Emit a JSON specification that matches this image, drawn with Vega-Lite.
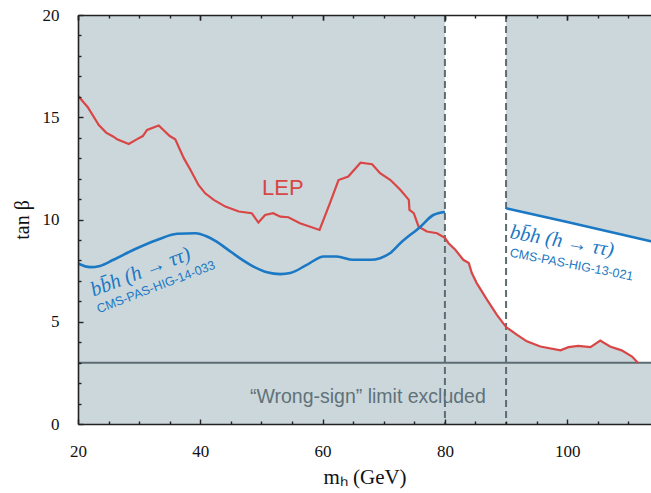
{
  "$schema": "https://vega.github.io/schema/vega-lite/v6.json",
  "width": 573,
  "height": 409,
  "autosize": {"type": "none"},
  "padding": {"left": 78, "top": 15, "right": 0, "bottom": 69},
  "background": "white",
  "config": {"view": {"stroke": null}},
  "datasets": {
    "regions": [
      {"x1": 20, "x2": 80, "y1": 0, "y2": 20},
      {"x1": 20, "x2": 113.7, "y1": 0, "y2": 3}
    ],
    "vlines": [{"x": 80}, {"x": 90}],
    "hline": [{"y": 3}],
    "lep": [
      {"x": 20.0, "y": 16.05}, {"x": 21.6, "y": 15.49}, {"x": 23.4, "y": 14.62}, {"x": 24.6, "y": 14.25},
      {"x": 25.8, "y": 14.05}, {"x": 26.4, "y": 13.92}, {"x": 28.3, "y": 13.69}, {"x": 29.6, "y": 13.92},
      {"x": 30.6, "y": 14.08}, {"x": 31.3, "y": 14.38}, {"x": 33.2, "y": 14.6}, {"x": 35.0, "y": 14.08},
      {"x": 35.9, "y": 13.92}, {"x": 37.3, "y": 13.0}, {"x": 38.4, "y": 12.42}, {"x": 39.7, "y": 11.69},
      {"x": 40.8, "y": 11.28}, {"x": 42.2, "y": 10.96}, {"x": 44.1, "y": 10.63}, {"x": 46.3, "y": 10.39},
      {"x": 48.4, "y": 10.31}, {"x": 49.5, "y": 9.85}, {"x": 50.6, "y": 10.22}, {"x": 51.9, "y": 10.31},
      {"x": 53.1, "y": 10.14}, {"x": 54.4, "y": 10.11}, {"x": 56.3, "y": 9.82}, {"x": 59.5, "y": 9.49},
      {"x": 61.2, "y": 10.8}, {"x": 62.6, "y": 11.93}, {"x": 64.2, "y": 12.1}, {"x": 66.2, "y": 12.78},
      {"x": 68.1, "y": 12.7}, {"x": 69.4, "y": 12.26}, {"x": 71.1, "y": 11.93}, {"x": 72.7, "y": 11.45},
      {"x": 74.1, "y": 10.96}, {"x": 74.2, "y": 10.47}, {"x": 74.9, "y": 10.31}, {"x": 75.7, "y": 9.65},
      {"x": 77.05, "y": 9.41}, {"x": 78.7, "y": 9.33}, {"x": 80.0, "y": 9.1}, {"x": 80.6, "y": 8.84},
      {"x": 81.7, "y": 8.52}, {"x": 83.0, "y": 8.03}, {"x": 83.9, "y": 7.87}, {"x": 84.4, "y": 7.38},
      {"x": 85.2, "y": 6.89}, {"x": 86.9, "y": 6.07}, {"x": 88.5, "y": 5.34}, {"x": 90.0, "y": 4.74},
      {"x": 91.8, "y": 4.36}, {"x": 93.4, "y": 4.04}, {"x": 95.6, "y": 3.79}, {"x": 98.9, "y": 3.6},
      {"x": 100.2, "y": 3.76}, {"x": 101.8, "y": 3.82}, {"x": 103.8, "y": 3.76}, {"x": 105.4, "y": 4.08},
      {"x": 107.0, "y": 3.79}, {"x": 108.9, "y": 3.6}, {"x": 110.6, "y": 3.3}, {"x": 111.6, "y": 2.98}
    ],
    "blueL": [
      {"x": 20.0, "y": 7.85}, {"x": 22.0, "y": 7.67}, {"x": 23.6, "y": 7.73}, {"x": 25.8, "y": 8.03},
      {"x": 29.1, "y": 8.52}, {"x": 32.9, "y": 9.0}, {"x": 36.2, "y": 9.3}, {"x": 39.2, "y": 9.33},
      {"x": 41.1, "y": 9.17}, {"x": 42.6, "y": 8.93}, {"x": 44.4, "y": 8.55}, {"x": 46.5, "y": 8.1},
      {"x": 48.7, "y": 7.7}, {"x": 50.9, "y": 7.42}, {"x": 53.1, "y": 7.33}, {"x": 54.7, "y": 7.38},
      {"x": 57.4, "y": 7.78}, {"x": 60.2, "y": 8.19}, {"x": 62.3, "y": 8.19}, {"x": 65.0, "y": 8.03},
      {"x": 67.8, "y": 8.03}, {"x": 69.4, "y": 8.11}, {"x": 71.0, "y": 8.35}, {"x": 72.7, "y": 8.84},
      {"x": 76.0, "y": 9.65}, {"x": 78.1, "y": 10.22}, {"x": 80.0, "y": 10.37}
    ],
    "blueR": [
      {"x": 90.0, "y": 10.55}, {"x": 100.0, "y": 9.88}, {"x": 113.7, "y": 8.93}
    ]
  },
  "resolve": {"axis": {"x": "independent", "y": "independent"}},
  "layer": [
    {
      "data": {"name": "regions"},
      "mark": {"type": "rect", "fill": "#ccd7db"},
      "encoding": {
        "x": {"field": "x1", "type": "quantitative",
          "scale": {"domain": [20, 113.7], "nice": false, "zero": false},
          "axis": {
            "orient": "bottom",
            "values": [20, 40, 60, 80, 100],
            "ticks": false,
            "grid": true, "gridDash": [5, 399, 5, 100], "gridColor": "#222", "gridWidth": 1.4, "gridOpacity": 1,
            "labelPadding": 19,
            "labelFlush": false, "labelOverlap": false, "labelBound": false,
            "domainColor": "#222", "domainWidth": 1.6,
            "labelFont": "Liberation Serif", "labelFontSize": 17, "labelColor": "#111",
            "title": "mₕ (GeV)", "titleFont": "Liberation Serif", "titleFontSize": 21,
            "titleFontWeight": "normal", "titleColor": "#111", "titlePadding": 7,
            "zindex": 2
          }
        },
        "x2": {"field": "x2"},
        "y": {"field": "y1", "type": "quantitative",
          "scale": {"domain": [0, 20], "nice": false, "zero": false},
          "axis": {
            "orient": "left",
            "values": [0, 5, 10, 15, 20],
            "tickSize": -5, "tickColor": "#222", "tickWidth": 1.4,
            "labelPadding": 24,
            "labelFlush": false, "labelOverlap": false, "labelBound": false,
            "domainColor": "#222", "domainWidth": 1.6,
            "labelFont": "Liberation Serif", "labelFontSize": 17, "labelColor": "#111",
            "title": "tan β", "titleFont": "Liberation Serif", "titleFontSize": 20,
            "titleFontWeight": "normal", "titleColor": "#111", "titlePadding": 10,
            "grid": false, "zindex": 2
          }
        },
        "y2": {"field": "y2"}
      }
    },
    {
      "data": {"name": "lep"},
      "transform": [{"filter": "datum.x >= 80"}],
      "mark": {"type": "area", "fill": "#ccd7db", "clip": true},
      "encoding": {
        "x": {"field": "x", "type": "quantitative",
          "scale": {"domain": [20, 113.7], "nice": false, "zero": false},
          "axis": {
            "orient": "top",
            "values": [20, 40, 60, 80, 100],
            "labels": false, "ticks": true, "tickSize": -5, "tickColor": "#222", "tickWidth": 1.4,
            "domain": true, "domainColor": "#222", "domainWidth": 1.6,
            "title": null, "grid": false, "zindex": 2
          }
        },
        "y": {"field": "y", "type": "quantitative", "scale": {"domain": [0, 20], "nice": false, "zero": false},
          "axis": {
            "orient": "left",
            "values": [1, 2, 3, 4, 6, 7, 8, 9, 11, 12, 13, 14, 16, 17, 18, 19],
            "labels": false, "ticks": true, "tickSize": -3, "tickColor": "#222", "tickWidth": 1.4,
            "domain": false,
            "title": null, "grid": false, "zindex": 2
          }
        },
        "y2": {"datum": 0}
      }
    },
    {
      "data": {"name": "blueR"},
      "mark": {"type": "area", "fill": "#ccd7db", "clip": true},
      "encoding": {
        "x": {"field": "x", "type": "quantitative", "scale": {"domain": [20, 113.7], "nice": false, "zero": false},
          "axis": {
            "orient": "bottom",
            "values": [25, 30, 35, 45, 50, 55, 65, 70, 75, 85, 90, 95, 105, 110],
            "labels": false, "ticks": false, "domain": false,
            "grid": true, "gridDash": [3, 403, 3, 100], "gridColor": "#222", "gridWidth": 1.4, "gridOpacity": 1,
            "title": null, "zindex": 2
          }
        },
        "y": {"field": "y", "type": "quantitative", "scale": {"domain": [0, 20], "nice": false, "zero": false}, "axis": null},
        "y2": {"datum": 20}
      }
    },
    {
      "data": {"name": "hline"},
      "mark": {"type": "rule", "color": "#5b6c73", "strokeWidth": 2},
      "encoding": {
        "y": {"field": "y", "type": "quantitative", "scale": {"domain": [0, 20], "nice": false, "zero": false}, "axis": null}
      }
    },
    {
      "data": {"name": "vlines"},
      "mark": {"type": "rule", "color": "#5b6c73", "strokeWidth": 2, "strokeDash": [7, 4]},
      "encoding": {
        "x": {"field": "x", "type": "quantitative", "scale": {"domain": [20, 113.7], "nice": false, "zero": false}, "axis": null}
      }
    },
    {
      "data": {"name": "lep"},
      "mark": {"type": "line", "color": "#d94646", "strokeWidth": 2.2, "clip": true},
      "encoding": {
        "x": {"field": "x", "type": "quantitative", "scale": {"domain": [20, 113.7], "nice": false, "zero": false}, "axis": null},
        "y": {"field": "y", "type": "quantitative", "scale": {"domain": [0, 20], "nice": false, "zero": false}, "axis": null}
      }
    },
    {
      "data": {"name": "blueL"},
      "mark": {"type": "line", "color": "#1a78c4", "strokeWidth": 2.6, "interpolate": "monotone", "clip": true},
      "encoding": {
        "x": {"field": "x", "type": "quantitative", "scale": {"domain": [20, 113.7], "nice": false, "zero": false}, "axis": null},
        "y": {"field": "y", "type": "quantitative", "scale": {"domain": [0, 20], "nice": false, "zero": false}, "axis": null}
      }
    },
    {
      "data": {"name": "blueR"},
      "mark": {"type": "line", "color": "#1a78c4", "strokeWidth": 2.6, "interpolate": "monotone", "clip": true},
      "encoding": {
        "x": {"field": "x", "type": "quantitative", "scale": {"domain": [20, 113.7], "nice": false, "zero": false}, "axis": null},
        "y": {"field": "y", "type": "quantitative", "scale": {"domain": [0, 20], "nice": false, "zero": false}, "axis": null}
      }
    },
    {
      "data": {"values": [{"x": 50.1, "y": 11.2, "t": "LEP"}]},
      "mark": {"type": "text", "color": "#d94646", "font": "Liberation Sans", "fontSize": 22, "align": "left", "baseline": "alphabetic"},
      "encoding": {
        "x": {"field": "x", "type": "quantitative", "scale": {"domain": [20, 113.7], "nice": false, "zero": false}, "axis": null},
        "y": {"field": "y", "type": "quantitative", "scale": {"domain": [0, 20], "nice": false, "zero": false}, "axis": null},
        "text": {"field": "t"}
      }
    },
    {
      "data": {"values": [{"x": 22.55, "y": 6.23, "t": "bb̄h (h → ττ)", "a": -21}, {"x": 90.5, "y": 9.09, "t": "bb̄h (h → ττ)", "a": 10}]},
      "mark": {"type": "text", "color": "#1a78c4", "font": "Liberation Serif", "fontStyle": "italic", "fontSize": 20.5, "align": "left", "baseline": "alphabetic"},
      "encoding": {
        "x": {"field": "x", "type": "quantitative", "scale": {"domain": [20, 113.7], "nice": false, "zero": false}, "axis": null},
        "y": {"field": "y", "type": "quantitative", "scale": {"domain": [0, 20], "nice": false, "zero": false}, "axis": null},
        "angle": {"field": "a", "type": "quantitative", "scale": null},
        "text": {"field": "t"}
      }
    },
    {
      "data": {"values": [{"x": 23.4, "y": 5.42, "t": "CMS-PAS-HIG-14-033", "a": -21}, {"x": 90.5, "y": 8.19, "t": "CMS-PAS-HIG-13-021", "a": 11}]},
      "mark": {"type": "text", "color": "#1a78c4", "font": "Liberation Sans", "fontSize": 12.5, "align": "left", "baseline": "alphabetic"},
      "encoding": {
        "x": {"field": "x", "type": "quantitative", "scale": {"domain": [20, 113.7], "nice": false, "zero": false}, "axis": null},
        "y": {"field": "y", "type": "quantitative", "scale": {"domain": [0, 20], "nice": false, "zero": false}, "axis": null},
        "angle": {"field": "a", "type": "quantitative", "scale": null},
        "text": {"field": "t"}
      }
    },
    {
      "data": {"values": [{"x": 67.4, "y": 1.03, "t": "“Wrong-sign” limit excluded"}]},
      "mark": {"type": "text", "color": "#5f7279", "font": "Liberation Sans", "fontSize": 19.5, "align": "center", "baseline": "alphabetic"},
      "encoding": {
        "x": {"field": "x", "type": "quantitative", "scale": {"domain": [20, 113.7], "nice": false, "zero": false}, "axis": null},
        "y": {"field": "y", "type": "quantitative", "scale": {"domain": [0, 20], "nice": false, "zero": false}, "axis": null},
        "text": {"field": "t"}
      }
    }
  ]
}
